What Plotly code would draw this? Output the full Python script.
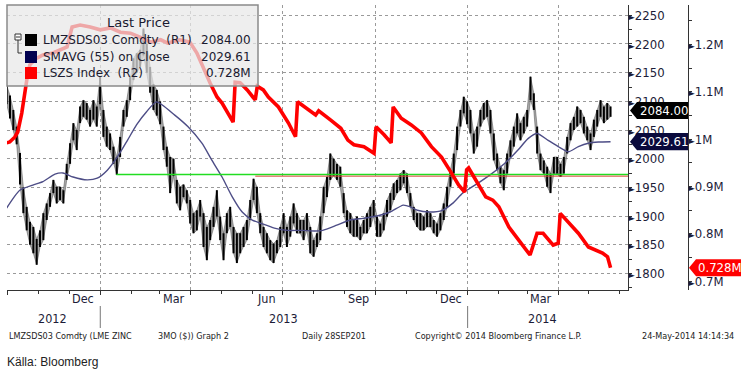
import plotly.graph_objects as go
import pandas as pd

# ---------------- data ----------------
price_start, price_end = "2012-09-30", "2014-05-23"
price_high = [2128, 2110, 2085, 2056, 2010, 1950, 1916, 1890, 1881, 1860,
              1875, 1905, 1922, 1940, 1963, 1951, 1951, 1945, 1991, 2027,
              2062, 2050, 2091, 2102, 2097, 2085, 2102, 2091, 2143, 2085,
              2056, 2044, 2021, 2003, 2038, 2085, 2102, 2143, 2175, 2184,
              2190, 2227, 2200, 2160, 2130, 2120, 2100, 2056, 2021, 2003,
              2000, 1963, 1951, 1955, 1945, 1928, 1905, 1910, 1928, 1905,
              1881, 1893, 1916, 1945, 1899, 1870, 1905, 1916, 1881, 1870,
              1870, 1881, 1893, 1928, 1965, 1951, 1905, 1881, 1870, 1858,
              1852, 1858, 1881, 1905, 1881, 1899, 1922, 1905, 1893, 1893,
              1905, 1881, 1858, 1870, 1899, 1951, 1968, 2009, 2000, 1991,
              1986, 1940, 1910, 1905, 1893, 1899, 1881, 1893, 1905, 1916,
              1928, 1899, 1887, 1905, 1928, 1940, 1957, 1963, 1974, 1980,
              1974, 1940, 1916, 1905, 1905, 1899, 1910, 1905, 1893, 1887,
              1905, 1922, 1951, 1980, 2009, 2056, 2085, 2108, 2100, 2085,
              2044, 2056, 2085, 2097, 2102, 2085, 2044, 2009, 1986, 1980,
              2009, 2032, 2056, 2079, 2062, 2073, 2085, 2143, 2114, 2056,
              2009, 1997, 1986, 1974, 2003, 2003, 1991, 2003, 2038, 2062,
              2073, 2091, 2085, 2073, 2056, 2044, 2068, 2085, 2102, 2091,
              2097, 2091]
price_low = [2095, 2070, 2050, 2025, 1955, 1905, 1875, 1850, 1835, 1815,
             1846, 1858, 1893, 1916, 1940, 1922, 1928, 1922, 1963, 1991,
             2032, 2015, 2062, 2073, 2068, 2056, 2068, 2056, 2095, 2038,
             2021, 2015, 1991, 1972, 2003, 2056, 2073, 2102, 2137, 2150,
             2160, 2180, 2150, 2115, 2085, 2075, 2060, 2015, 1986, 1940,
             1970, 1922, 1910, 1933, 1922, 1887, 1870, 1875, 1899, 1846,
             1823, 1858, 1881, 1899, 1858, 1823, 1870, 1881, 1835, 1818,
             1835, 1846, 1858, 1893, 1928, 1905, 1870, 1846, 1835, 1823,
             1818, 1835, 1846, 1870, 1846, 1864, 1887, 1870, 1870, 1858,
             1875, 1835, 1829, 1846, 1858, 1905, 1933, 1963, 1970, 1963,
             1951, 1905, 1881, 1870, 1864, 1864, 1858, 1870, 1870, 1881,
             1899, 1864, 1864, 1875, 1899, 1910, 1928, 1940, 1945, 1957,
             1940, 1916, 1893, 1881, 1875, 1875, 1881, 1881, 1870, 1864,
             1875, 1893, 1916, 1951, 1974, 2015, 2056, 2079, 2060, 2044,
             2009, 2021, 2056, 2068, 2073, 2044, 1997, 1980, 1957, 1945,
             1974, 2003, 2021, 2044, 2032, 2044, 2056, 2102, 2085, 2009,
             1980, 1974, 1951, 1940, 1974, 1974, 1968, 1974, 2009, 2032,
             2050, 2056, 2062, 2044, 2032, 2015, 2038, 2056, 2073, 2062,
             2068, 2073]
last_price = 2084.00

sma_dates = ["2012-09-30", "2012-10-13", "2012-10-26", "2012-11-05", "2012-11-17",
             "2012-11-25", "2012-12-05", "2012-12-19", "2012-12-29", "2013-01-08",
             "2013-01-18", "2013-01-28", "2013-02-06", "2013-02-16", "2013-02-26",
             "2013-03-16", "2013-03-29", "2013-04-12", "2013-04-22", "2013-05-02",
             "2013-05-12", "2013-05-22", "2013-06-01", "2013-06-10", "2013-06-23",
             "2013-07-06", "2013-07-20", "2013-08-02", "2013-08-10", "2013-08-24",
             "2013-09-06", "2013-09-19", "2013-10-03", "2013-10-16", "2013-10-29",
             "2013-11-05", "2013-11-12", "2013-11-24", "2013-12-07", "2013-12-17",
             "2013-12-27", "2014-01-03", "2014-01-11", "2014-01-25", "2014-02-07",
             "2014-02-20", "2014-03-02", "2014-03-11", "2014-03-22", "2014-04-01",
             "2014-04-11", "2014-04-21", "2014-05-01", "2014-05-11", "2014-05-23"]
sma_values = [1914, 1945, 1954, 1960, 1973, 1975, 1968, 1963, 1966, 1980,
              2003, 2032, 2059, 2082, 2099, 2076, 2056, 2027, 1997, 1968,
              1934, 1907, 1893, 1887, 1879, 1875, 1875, 1874, 1875, 1884,
              1893, 1896, 1900, 1907, 1919, 1916, 1910, 1907, 1910, 1922,
              1940, 1948, 1957, 1974, 1992, 2015, 2035, 2044, 2032, 2021,
              2012, 2021, 2027, 2029, 2029.61]

lszs_dates = ["2012-09-30", "2012-10-03", "2012-10-08", "2012-10-11", "2012-10-15",
              "2012-10-18", "2012-10-20", "2012-10-23", "2012-10-29", "2012-11-05",
              "2012-11-15", "2012-11-29", "2012-12-04", "2012-12-12", "2012-12-22",
              "2013-01-01", "2013-01-11", "2013-01-21", "2013-01-31", "2013-02-10",
              "2013-02-20", "2013-03-02", "2013-03-09", "2013-03-21", "2013-03-31",
              "2013-04-07", "2013-04-13", "2013-04-20", "2013-04-27", "2013-05-02",
              "2013-05-13", "2013-05-15", "2013-05-20", "2013-05-27", "2013-06-02",
              "2013-06-04", "2013-06-06", "2013-06-12", "2013-06-17", "2013-06-27",
              "2013-07-07", "2013-07-14", "2013-07-16", "2013-07-27", "2013-08-03",
              "2013-08-06", "2013-08-11", "2013-08-18", "2013-08-28", "2013-09-04",
              "2013-09-10", "2013-09-20", "2013-09-30", "2013-10-02", "2013-10-10",
              "2013-10-17", "2013-10-19", "2013-10-27", "2013-11-06", "2013-11-16",
              "2013-11-26", "2013-12-06", "2013-12-16", "2013-12-23", "2013-12-29",
              "2013-12-31", "2014-01-02", "2014-01-09", "2014-01-19", "2014-01-26",
              "2014-02-01", "2014-02-11", "2014-02-21", "2014-03-04", "2014-03-11",
              "2014-03-17", "2014-03-27", "2014-04-01", "2014-04-03", "2014-04-11",
              "2014-04-21", "2014-05-01", "2014-05-15", "2014-05-20", "2014-05-23"]
lszs_mt = [0.992, 0.994, 1.004, 1.015, 1.055, 1.100, 1.125, 1.157, 1.170, 1.178,
           1.182, 1.195, 1.237, 1.241, 1.237, 1.231, 1.235, 1.226, 1.224, 1.215,
           1.205, 1.210, 1.203, 1.210, 1.205, 1.182, 1.152, 1.119, 1.089, 1.076,
           1.036, 1.120, 1.119, 1.104, 1.088, 1.083, 1.112, 1.104, 1.089, 1.068,
           1.034, 1.005, 1.079, 1.062, 1.051, 1.060, 1.051, 1.040, 1.023, 0.998,
           0.988, 0.984, 0.970, 1.026, 1.009, 0.992, 1.068, 1.044, 1.030, 1.013,
           0.984, 0.962, 0.928, 0.903, 0.888, 0.935, 0.939, 0.914, 0.878, 0.871,
           0.857, 0.814, 0.787, 0.755, 0.801, 0.801, 0.776, 0.780, 0.843, 0.825,
           0.801, 0.772, 0.759, 0.751, 0.728]

green_level, green_start = 1972.5, "2013-01-17"
redline_level, redline_start = 1969.5, "2013-06-04"

r1_ticks = [1800, 1850, 1900, 1950, 2000, 2050, 2100, 2150, 2200, 2250]
r2_ticks = [0.7, 0.8, 0.9, 1.0, 1.1, 1.2]
r2_labels = ["0.7M", "0.8M", "0.9M", "1M", "1.1M", "1.2M"]
month_labels = [("2012-12-15", "Dec"), ("2013-03-15", "Mar"), ("2013-06-15", "Jun"),
                ("2013-09-15", "Sep"), ("2013-12-15", "Dec"), ("2014-03-15", "Mar")]
year_labels = [("2012-11-15", "2012"), ("2013-07-02", "2013"), ("2014-03-16", "2014")]
year_breaks = ["2013-01-01", "2014-01-01"]
x_range = ["2012-09-30 08:00", "2014-06-09 08:00"]

# ---------------- geometry helpers ----------------
W, H = 750, 377
ML, MR, MT, MB = 7, 50, 5, 87
PW, PH = W - ML - MR, H - MT - MB
def px(x):
    return (x - ML) / PW
def py(y):
    return (MT + PH - y) / PH
XD = px(628)

price_dates = pd.date_range(price_start, price_end, periods=len(price_high))
quarters = pd.date_range("2012-10-01", "2014-07-01", freq="QS")
months = pd.date_range("2012-10-01", "2014-06-01", freq="MS")

fig = go.Figure()

# price: grey band between lows and highs, with black high-low bars on top
fig.add_trace(go.Scatter(x=price_dates, y=price_low, mode="lines",
                         line=dict(color="rgba(90,90,90,0.7)", width=0.8), hoverinfo="skip"))
fig.add_trace(go.Scatter(x=price_dates, y=price_high, mode="lines", fill="tonexty",
                         fillcolor="rgba(110,110,110,0.6)",
                         line=dict(color="rgba(90,90,90,0.7)", width=0.8), hoverinfo="skip"))
bx, by = [], []
for d, h, l in zip(price_dates, price_high, price_low):
    bx += [d, d, None]
    by += [h, l, None]
fig.add_trace(go.Scatter(x=bx, y=by, mode="lines", line=dict(color="#000", width=2),
                         hoverinfo="skip"))

fig.add_trace(go.Scatter(x=sma_dates, y=sma_values, mode="lines",
                         line=dict(color="#4d4d86", width=1.4, shape="spline", smoothing=0.6)))
fig.add_trace(go.Scatter(x=[green_start, x_range[1]], y=[green_level, green_level], mode="lines",
                         line=dict(color="#22dd22", width=1.4)))
fig.add_trace(go.Scatter(x=[redline_start, x_range[1]], y=[redline_level, redline_level], mode="lines",
                         line=dict(color="#d84a3a", width=1)))
fig.add_trace(go.Scatter(x=lszs_dates, y=lszs_mt, mode="lines", yaxis="y2",
                         line=dict(color="#ff0000", width=3.6)))

tickfont = dict(family="DejaVu Sans Condensed", size=13, color="#1c1c38")
arrow = '<span style="font-size:9px">\u25ba</span>'

fig.update_layout(
    width=W, height=H, margin=dict(l=ML, r=MR, t=MT, b=MB),
    paper_bgcolor="white", plot_bgcolor="white", showlegend=False,
    xaxis=dict(domain=[0, XD], type="date", range=x_range,
               tickvals=list(quarters), showticklabels=False,
               ticks="outside", ticklen=4, tickcolor="#333",
               showgrid=True, gridcolor="#9a9a9a", griddash="dot", gridwidth=1,
               showline=True, linecolor="#333", linewidth=1, zeroline=False,
               minor=dict(tickvals=list(months), ticks="outside", ticklen=3,
                          tickcolor="#333", showgrid=False)),
    yaxis=dict(side="right", anchor="x", range=[1771, 2268],
               tickvals=r1_ticks, ticktext=[arrow + str(v) for v in r1_ticks],
               tickfont=tickfont, ticks="", ticklabelstandoff=-3,
               showgrid=True, gridcolor="#9a9a9a",
               griddash="dot", gridwidth=1, showline=True, linecolor="#333",
               linewidth=1, zeroline=False,
               minor=dict(dtick=25, ticks="outside", ticklen=3, tickcolor="#333",
                          showgrid=False)),
    yaxis2=dict(overlaying="y", side="right", anchor="free", position=px(688),
                range=[0.681, 1.2835], tickvals=r2_ticks,
                ticktext=[arrow + t for t in r2_labels], tickfont=tickfont,
                ticks="", ticklabelstandoff=-3, showgrid=False, showline=True,
                linecolor="#333", linewidth=1, zeroline=False,
                minor=dict(dtick=0.05, ticks="outside", ticklen=3,
                           tickcolor="#333", showgrid=False)),
)

shapes, annots = [], []

# last-value tags
def tag(value, yref, half, color, text, x_tip, x_body, x_right):
    shapes.append(dict(type="path", xref="paper", yref=yref, layer="above",
                       path=f"M {px(x_tip)},{value} L {px(x_body)},{value + half} "
                            f"L {px(x_right)},{value + half} L {px(x_right)},{value - half} "
                            f"L {px(x_body)},{value - half} Z",
                       fillcolor=color, line=dict(width=0)))
    annots.append(dict(x=px((x_body + x_right) / 2 + 1), y=value, xref="paper", yref=yref,
                       text=text, showarrow=False, xanchor="center", yanchor="middle",
                       font=dict(family="DejaVu Sans Condensed", size=13, color="white")))

tag(last_price, "y", 15, "#000000", f"{last_price:.2f}", 630, 637, 688)
tag(sma_values[-1], "y", 15, "#0a0a3c", f"{sma_values[-1]:.2f}", 630, 637, 688)
tag(lszs_mt[-1], "y2", 0.018, "#ff0000", f"{lszs_mt[-1]:.3f}M", 689, 696, 741)

# legend box
shapes.append(dict(type="rect", xref="paper", yref="paper", layer="above",
                   x0=px(7), x1=px(258), y0=py(86), y1=py(5),
                   fillcolor="rgba(232,232,232,0.72)", line=dict(color="#8a8a8a", width=1.5)))
lfont = dict(family="DejaVu Sans", size=12, color="#1a1a30")
annots.append(dict(x=px(138), y=py(23), xref="paper", yref="paper", text="Last Price",
                   showarrow=False, xanchor="center", yanchor="middle",
                   font=dict(family="DejaVu Sans", size=13, color="#1a1a30")))
rows = [(40, "#000000", "LMZSDS03 Comdty  (R1)", f"{last_price:.2f}"),
        (57, "#000050", "SMAVG (55) on Close", f"{sma_values[-1]:.2f}"),
        (73, "#ff0000", "LSZS Index  (R2)", f"{lszs_mt[-1]:.3f}M")]
for yy, col, name, val in rows:
    shapes.append(dict(type="rect", xref="paper", yref="paper", layer="above",
                       x0=px(25), x1=px(37), y0=py(yy + 6), y1=py(yy - 6),
                       fillcolor=col, line=dict(width=0)))
    annots.append(dict(x=px(41), y=py(yy), xref="paper", yref="paper", text=name,
                       showarrow=False, xanchor="left", yanchor="middle", font=lfont))
    annots.append(dict(x=px(253), y=py(yy), xref="paper", yref="paper", text=val,
                       showarrow=False, xanchor="right", yanchor="middle", font=lfont))
# tree glyph
shapes.append(dict(type="rect", xref="paper", yref="paper", layer="above",
                   x0=px(15), x1=px(21), y0=py(40), y1=py(34),
                   fillcolor="white", line=dict(color="#333", width=1)))
shapes.append(dict(type="line", xref="paper", yref="paper", layer="above",
                   x0=px(16), x1=px(20), y0=py(37), y1=py(37), line=dict(color="#333", width=1)))
shapes.append(dict(type="path", xref="paper", yref="paper", layer="above",
                   path=f"M {px(18)},{py(40)} L {px(18)},{py(53)} L {px(22)},{py(53)}",
                   line=dict(color="#333", width=1)))

# month / year labels
mfont = dict(family="DejaVu Sans Condensed", size=12.5, color="#1c1c38")
for d, t in month_labels:
    annots.append(dict(x=d, y=py(298), xref="x", yref="paper", text=t, showarrow=False,
                       xanchor="center", yanchor="middle", font=mfont))
for d, t in year_labels:
    annots.append(dict(x=d, y=py(318), xref="x", yref="paper", text=t, showarrow=False,
                       xanchor="center", yanchor="middle", font=mfont))
for d in year_breaks:
    shapes.append(dict(type="line", xref="x", yref="paper", x0=d, x1=d,
                       y0=py(306), y1=py(328), line=dict(color="#777", width=1)))

# footer
ffont = dict(family="DejaVu Sans Condensed", size=9, color="#222")
for x, t in [(7, "LMZSDS03 Comdty (LME ZINC"), (156, "3MO ($)) Graph 2"),
             (300, "Daily 28SEP201"), (413, "Copyright\u00a9 2014 Bloomberg Finance L.P."),
             (640, "24-May-2014 14:14:34")]:
    annots.append(dict(x=px(x), y=py(336), xref="paper", yref="paper", text=t, showarrow=False,
                       xanchor="left", yanchor="middle", font=ffont))
annots.append(dict(x=px(5), y=py(362), xref="paper", yref="paper", text="Källa: Bloomberg",
                   showarrow=False, xanchor="left", yanchor="middle",
                   font=dict(family="Liberation Sans", size=12, color="#222")))

fig.update_layout(shapes=shapes, annotations=annots)
fig.write_html("out.html", config={"displayModeBar": False},
               post_script="document.body.style.margin='0';document.body.style.overflow='hidden';")
